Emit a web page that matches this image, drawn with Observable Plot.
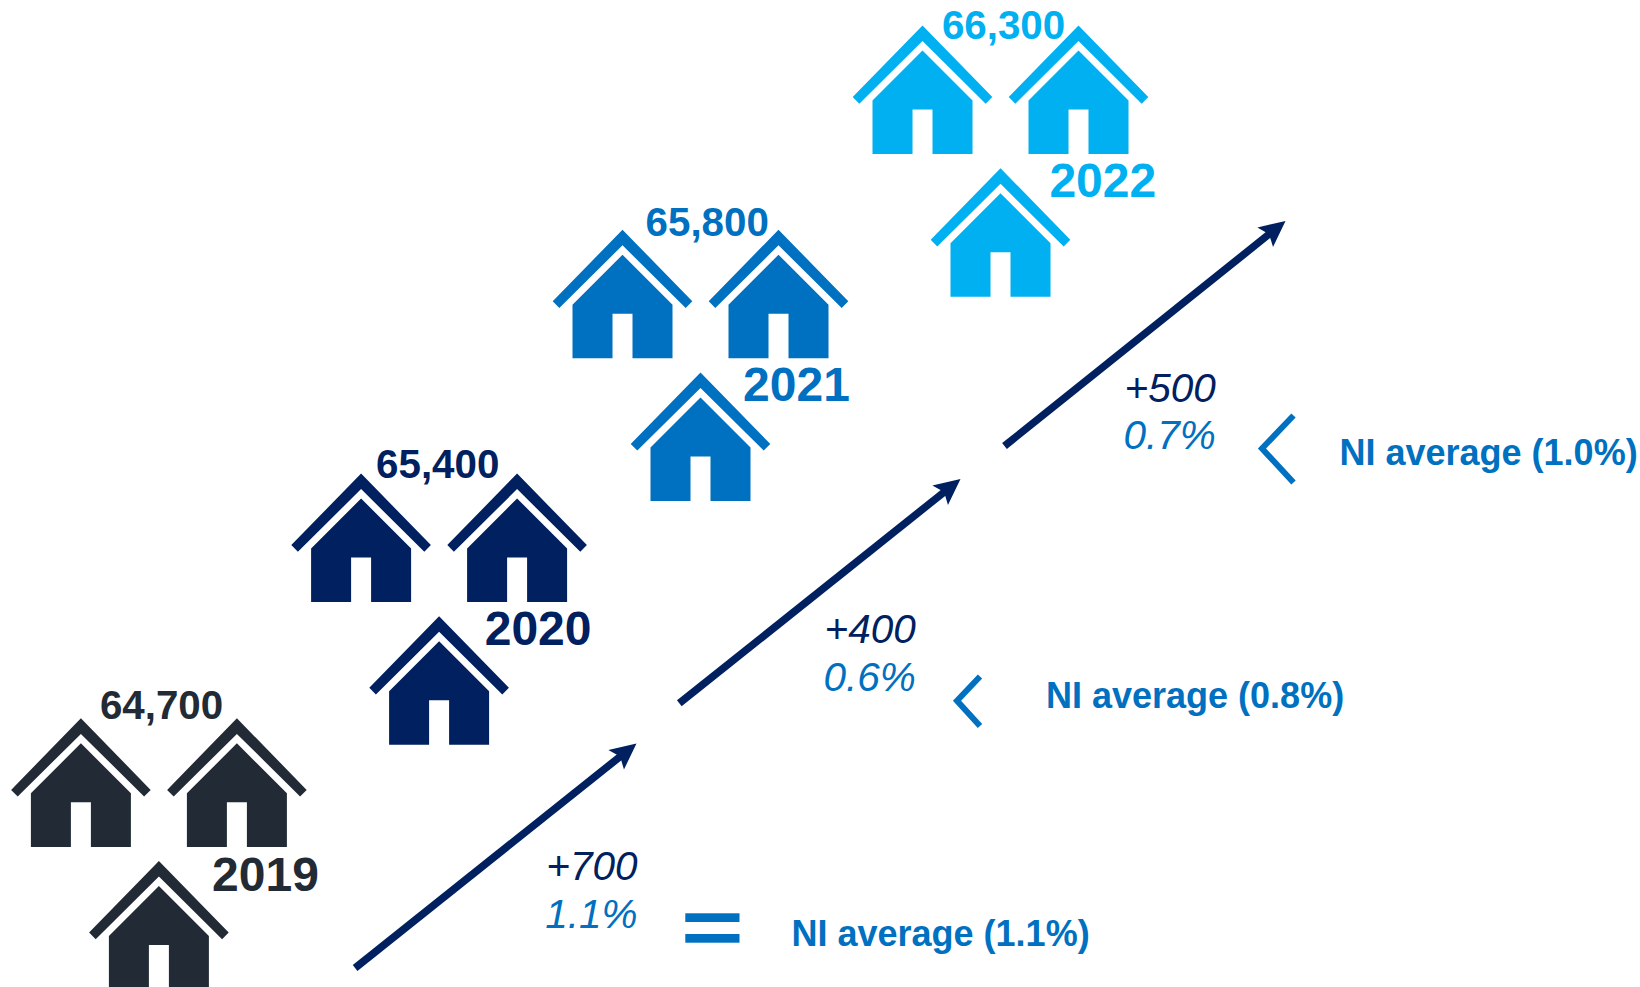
<!DOCTYPE html>
<html>
<head>
<meta charset="utf-8">
<script src="https://cdn.jsdelivr.net/npm/d3@7"></script>
<script src="https://cdn.jsdelivr.net/npm/@observablehq/plot@0.6"></script>
<style>
  html, body { margin: 0; background: #fff; }
  svg { display: block; }
</style>
</head>
<body>
<div id="chart"></div>
<script>
// Households per year and the year-on-year change.
const years = ["2019", "2020", "2021", "2022"];
const households = [64700, 65400, 65800, 66300];
const changes = [700, 400, 500];
const changePct = [1.1, 0.6, 0.7];
const niAverage = [1.1, 0.8, 1.0];

// Colours per year.
const yearColors = ["#222b35", "#002060", "#0070c0", "#00b0f0"];
const navy = "#002060";
const blue = "#0070c0";

// Layout of the infographic on a pixel-sized plane.
const houseX = [80.4, 360.6, 622, 922];
const houseY = [717.8, 473, 229.2, 25];
const clusterDx = [0, 156, 78];
const clusterDy = [0, 0, 142.7];
const valueLabelX = [161, 437.2, 706.7, 1003];
const valueLabelY = [718.5, 477.5, 235.5, 38.3];
const yearLabelX = [265, 537.6, 796, 1102.3];
const yearLabelY = [890, 644.5, 400.8, 196];
const arrowX1 = [354.6, 678.8, 1004];
const arrowY1 = [967.5, 702.8, 445.5];
const arrowX2 = [636, 960, 1285];
const arrowY2 = [743, 478.5, 220.5];
const changeLabelX = [637, 915.3, 1215.3];
const changeLabelY = [879, 642, 401];
const pctLabelY = [927, 690.3, 448.3];
const niLabelX = [791, 1045.5, 1339];
const niLabelY = [945, 707.7, 464];

// Comparison glyphs: an equals sign built from two bars, chevrons for "below".
const equalsBars = [
  {x1: 685.3, x2: 739.5, y1: 913.3, y2: 922},
  {x1: 685.3, x2: 739.5, y1: 934, y2: 942.7}
];
const chevrons = [
  {id: 1, x: 979.5, y: 676}, {id: 1, x: 956.5, y: 700.3}, {id: 1, x: 979.5, y: 725.5},
  {id: 2, x: 1293, y: 415}, {id: 2, x: 1261.5, y: 448}, {id: 2, x: 1293, y: 482}
];

// House icon: a roof chevron above a body with a door cut out, origin at the roof apex.
const houseSymbol = {
  draw(context, size) {
    const k = Math.sqrt(size / Math.PI) / 70;
    const path = pts => {
      pts.forEach(([x, y], i) => i ? context.lineTo(x * k, y * k) : context.moveTo(x * k, y * k));
      context.closePath();
    };
    path([[0, 0], [69.8, 71.6], [63.2, 78.2], [0, 15.6], [-63.2, 78.2], [-69.8, 71.6]]);
    path([[0, 25], [50, 75], [50, 128.6], [10, 128.6], [10, 84], [-10, 84], [-10, 128.6], [-50, 128.6], [-50, 75]]);
  }
};

// Filled barbed arrow head pointing up, tip at the origin.
const headSymbol = {
  draw(context, size) {
    const k = Math.sqrt(size / Math.PI) / 24;
    context.moveTo(0, 0);
    context.lineTo(12.5 * k, 26 * k);
    context.lineTo(0, 21 * k);
    context.lineTo(-12.5 * k, 26 * k);
    context.closePath();
  }
};

const houses = years.flatMap((year, i) =>
  clusterDx.map((dx, j) => ({year, color: yearColors[i], x: houseX[i] + dx, y: houseY[i] + clusterDy[j]}))
);
const yearRows = years.map((year, i) => ({
  year, color: yearColors[i], households: households[i],
  vx: valueLabelX[i], vy: valueLabelY[i], yx: yearLabelX[i], yy: yearLabelY[i]
}));
const stepRows = changes.map((change, i) => ({
  change, pct: changePct[i], ni: niAverage[i],
  x1: arrowX1[i], y1: arrowY1[i], x2: arrowX2[i], y2: arrowY2[i],
  lx: changeLabelX[i], ly: changeLabelY[i], py: pctLabelY[i],
  nx: niLabelX[i], ny: niLabelY[i],
  angle: Math.atan2(arrowX2[i] - arrowX1[i], arrowY1[i] - arrowY2[i]) * 180 / Math.PI
}));

const font = "Liberation Sans, Arial, sans-serif";

const chart = Plot.plot({
  width: 1640,
  height: 987,
  margin: 0,
  style: {background: "#fff", fontFamily: font},
  x: {domain: [0, 1640], range: [0, 1640], axis: null},
  y: {domain: [0, 987], range: [0, 987], axis: null},
  marks: [
    Plot.dot(houses, {x: "x", y: "y", symbol: houseSymbol, r: 70, fill: "color"}),
    Plot.text(yearRows, {
      x: "vx", y: "vy", text: d => d3.format(",")(d.households), fill: "color",
      fontSize: 40.3, fontWeight: "bold", lineAnchor: "bottom", textAnchor: "middle"
    }),
    Plot.text(yearRows, {
      x: "yx", y: "yy", text: "year", fill: "color",
      fontSize: 48, fontWeight: "bold", lineAnchor: "bottom", textAnchor: "middle"
    }),
    Plot.link(stepRows, {
      x1: "x1", y1: "y1", x2: d => d.x2 - 15 * Math.sin(d.angle * Math.PI / 180),
      y2: d => d.y2 + 15 * Math.cos(d.angle * Math.PI / 180),
      stroke: navy, strokeWidth: 7.5
    }),
    Plot.dot(stepRows, {x: "x2", y: "y2", symbol: headSymbol, r: 24, rotate: "angle", fill: navy}),
    Plot.text(stepRows, {
      x: "lx", y: "ly", text: d => `+${d.change}`, fill: navy,
      fontSize: 40.5, fontStyle: "italic", lineAnchor: "bottom", textAnchor: "end"
    }),
    Plot.text(stepRows, {
      x: "lx", y: "py", text: d => `${d.pct.toFixed(1)}%`, fill: blue,
      fontSize: 40.5, fontStyle: "italic", lineAnchor: "bottom", textAnchor: "end"
    }),
    Plot.text(stepRows, {
      x: "nx", y: "ny", text: d => `NI average (${d.ni.toFixed(1)}%)`, fill: blue,
      fontSize: 36, fontWeight: "bold", lineAnchor: "bottom", textAnchor: "start"
    }),
    Plot.rect(equalsBars, {x1: "x1", x2: "x2", y1: "y1", y2: "y2", fill: blue}),
    Plot.line(chevrons, {
      x: "x", y: "y", z: "id", stroke: blue, strokeWidth: 6,
      strokeLinejoin: "miter", strokeMiterlimit: 10, strokeLinecap: "butt"
    })
  ]
});

document.getElementById("chart").append(chart);
</script>
</body>
</html>
